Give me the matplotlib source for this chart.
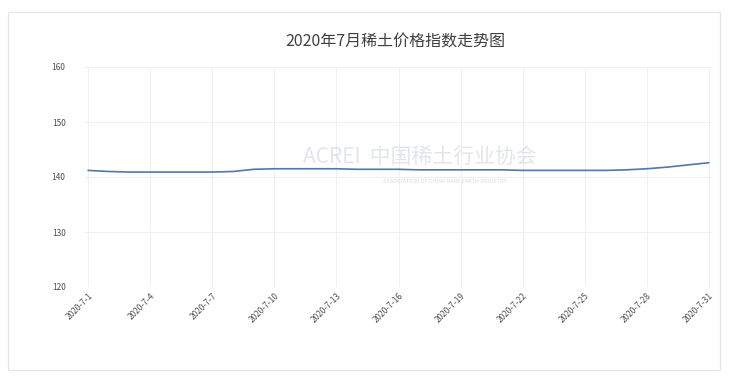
import matplotlib
matplotlib.use("Agg")
import matplotlib.pyplot as plt
from matplotlib.patches import Rectangle

plt.rcParams['font.family'] = ['Noto Sans CJK SC', 'DejaVu Sans']

title = "2020年7月稀土价格指数走势图"
dates = [f"2020-7-{d}" for d in range(1, 32)]
index_values = [
    141.2, 141.0, 140.9, 140.9, 140.9, 140.9, 140.9, 141.0,
    141.4, 141.5, 141.5, 141.5, 141.5, 141.4, 141.4, 141.4,
    141.3, 141.3, 141.3, 141.3, 141.3, 141.2, 141.2, 141.2,
    141.2, 141.2, 141.3, 141.5, 141.8, 142.2, 142.6,
]
y_ticks = [120, 130, 140, 150, 160]
tick_step = 3

fig = plt.figure(figsize=(7.29, 3.76), dpi=100)
fig.patch.set_facecolor("white")

# outer frame around the chart
fig.patches.append(Rectangle((8 / 729, 1 - 370 / 376), 712 / 729, 358 / 376,
                             transform=fig.transFigure, fill=False,
                             edgecolor="#e6e6e6", linewidth=1.0))

ax = fig.add_axes([85 / 729, 1 - 287 / 376, 627 / 729, 220 / 376])
x = list(range(len(dates)))
ax.plot(x, index_values, color="#5477ab", linewidth=1.2, solid_capstyle="round")

ax.set_ylim(120, 160)
ax.set_yticks(y_ticks)
ax.set_xlim(-0.15, len(dates) - 0.85)
xt = x[::tick_step]
ax.set_xticks(xt)
ax.set_xticklabels([dates[i] for i in xt], rotation=45, ha="right",
                   rotation_mode="anchor", fontsize=6, color="#505050")
ax.tick_params(axis="y", labelsize=6, labelcolor="#505050", length=0, pad=14)
ax.tick_params(axis="x", length=0, pad=3)
ax.grid(True, color="#f0f0f0", linewidth=0.8)
ax.set_axisbelow(True)
for s in ax.spines.values():
    s.set_visible(False)

fig.text(395 / 729, 1 - 42 / 376, title, ha="center", va="center",
         fontsize=11.5, color="#404040")

# association watermark
fig.text(420 / 729, 1 - 157 / 376, "ACREI  中国稀土行业协会", ha="center",
         va="center", fontsize=15, color="#cfd5df", alpha=0.6, style="italic")
fig.text(445 / 729, 1 - 181 / 376, "ASSOCIATION OF CHINA RARE EARTH INDUSTRY",
         ha="center", va="center", fontsize=4, color="#c8ccd3", alpha=0.7)

fig.savefig("out.png", dpi=100)
